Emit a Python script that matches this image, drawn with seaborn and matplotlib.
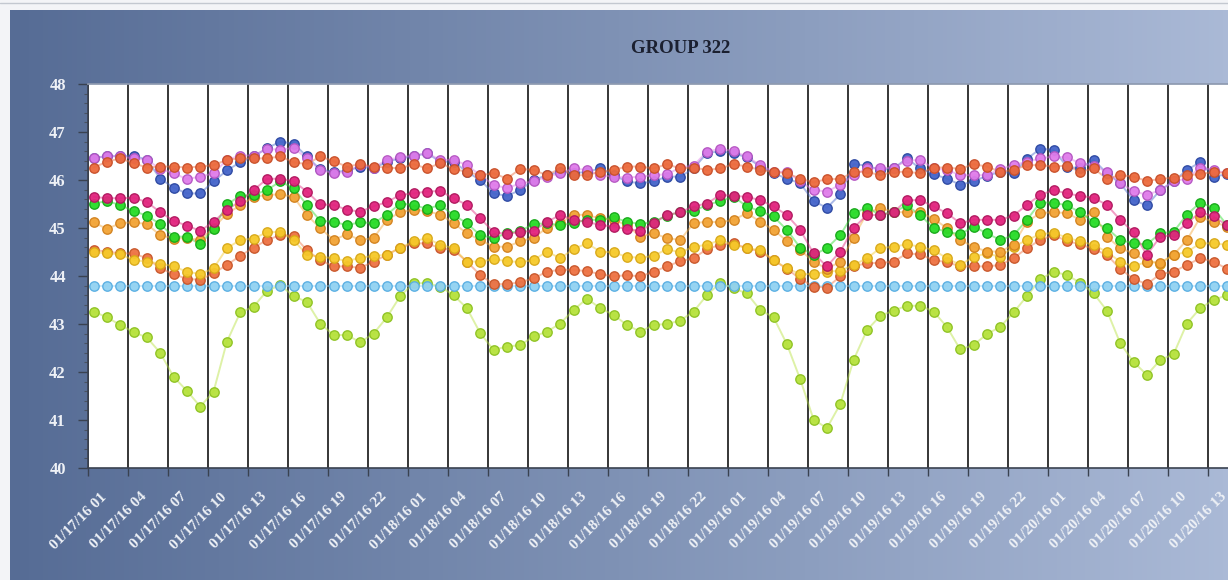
import numpy as np
import pandas as pd
import matplotlib
matplotlib.use("Agg")
import matplotlib.pyplot as plt
from matplotlib.colors import LinearSegmentedColormap
from matplotlib.lines import Line2D
from matplotlib.ticker import MultipleLocator
from matplotlib.transforms import ScaledTranslation
import seaborn as sns

# hourly readings, 01/17/16 01:xx onwards
start = "2016-01-17 01:25"

blue = [46.45, 46.50, 46.49, 46.51, 46.42, 46.03, 45.84, 45.72, 45.72, 45.97, 46.20, 46.37, 46.49, 46.66, 46.80, 46.76, 46.49, 46.22,
        46.17, 46.19, 46.28, 46.24, 46.38, 46.45, 46.49, 46.56, 46.38, 46.38, 46.17, 46.00, 45.72, 45.67, 45.79, 46.00, 46.10, 46.17,
        46.14, 46.17, 46.24, 46.10, 45.97, 45.93, 45.97, 46.07, 46.07, 46.24, 46.56, 46.60, 46.56, 46.47, 46.28, 46.14, 46.03, 45.93,
        45.56, 45.42, 45.70, 46.33, 46.30, 46.21, 46.24, 46.45, 46.24, 46.12, 46.03, 45.90, 45.97, 46.09, 46.17, 46.14, 46.44, 46.65,
        46.63, 46.28, 46.24, 46.42, 46.14, 45.93, 45.58, 45.47, 45.79, 45.97, 46.21, 46.37, 46.07, 46.12]
violet = [46.45, 46.51, 46.49, 46.45, 46.42, 46.23, 46.14, 46.02, 46.07, 46.14, 46.42, 46.51, 46.51, 46.65, 46.63, 46.67, 46.45, 46.21,
          46.14, 46.17, 46.31, 46.26, 46.42, 46.47, 46.51, 46.56, 46.42, 46.42, 46.31, 46.10, 45.90, 45.83, 45.93, 45.97, 46.07, 46.14,
          46.24, 46.21, 46.10, 46.07, 46.05, 46.07, 46.10, 46.12, 46.26, 46.30, 46.59, 46.65, 46.60, 46.49, 46.31, 46.17, 46.17, 45.97,
          45.79, 45.76, 45.90, 46.10, 46.24, 46.24, 46.26, 46.40, 46.42, 46.24, 46.21, 46.10, 46.10, 46.10, 46.23, 46.31, 46.38, 46.45,
          46.49, 46.47, 46.35, 46.30, 46.17, 45.93, 45.77, 45.69, 45.79, 45.97, 46.03, 46.26, 46.21, 46.14]
red_top = [46.26, 46.38, 46.45, 46.35, 46.26, 46.28, 46.28, 46.26, 46.28, 46.31, 46.42, 46.45, 46.45, 46.45, 46.49, 46.37, 46.33, 46.49,
           46.39, 46.28, 46.33, 46.28, 46.26, 46.24, 46.33, 46.24, 46.35, 46.23, 46.17, 46.10, 46.14, 46.03, 46.23, 46.21, 46.10, 46.24,
           46.10, 46.10, 46.17, 46.21, 46.28, 46.28, 46.24, 46.33, 46.24, 46.26, 46.21, 46.24, 46.33, 46.28, 46.21, 46.17, 46.14, 46.03,
           45.95, 46.02, 46.02, 46.17, 46.17, 46.10, 46.17, 46.17, 46.14, 46.26, 46.26, 46.23, 46.33, 46.28, 46.17, 46.21, 46.31, 46.31,
           46.28, 46.30, 46.17, 46.24, 46.03, 46.10, 46.07, 45.98, 46.02, 46.05, 46.10, 46.12, 46.17, 46.14]
magenta = [45.65, 45.62, 45.62, 45.63, 45.54, 45.33, 45.15, 45.05, 44.94, 45.13, 45.38, 45.56, 45.79, 46.02, 46.03, 45.97, 45.76, 45.49,
           45.48, 45.38, 45.34, 45.45, 45.54, 45.69, 45.72, 45.76, 45.77, 45.62, 45.48, 45.20, 44.92, 44.87, 44.92, 44.94, 45.13, 45.27,
           45.17, 45.13, 45.06, 45.03, 44.98, 44.94, 45.10, 45.27, 45.33, 45.45, 45.51, 45.69, 45.67, 45.65, 45.58, 45.45, 45.27, 44.96,
           44.47, 44.20, 44.51, 45.00, 45.27, 45.27, 45.33, 45.58, 45.58, 45.45, 45.31, 45.10, 45.17, 45.17, 45.17, 45.26, 45.48, 45.69,
           45.79, 45.72, 45.67, 45.63, 45.48, 45.17, 44.91, 44.44, 44.82, 44.85, 45.10, 45.33, 45.24, 45.06]
green = [45.51, 45.56, 45.48, 45.35, 45.26, 45.08, 44.82, 44.82, 44.66, 44.98, 45.49, 45.67, 45.69, 45.79, 45.97, 45.83, 45.48, 45.15,
         45.13, 45.06, 45.12, 45.10, 45.28, 45.51, 45.48, 45.40, 45.48, 45.27, 45.10, 44.85, 44.79, 44.89, 44.94, 45.08, 45.10, 45.06,
         45.10, 45.17, 45.17, 45.22, 45.13, 45.08, 45.13, 45.26, 45.33, 45.35, 45.48, 45.56, 45.65, 45.45, 45.35, 45.24, 44.96, 44.59,
         44.44, 44.58, 44.85, 45.31, 45.42, 45.28, 45.33, 45.47, 45.27, 45.00, 44.92, 44.87, 45.03, 44.89, 44.75, 44.85, 45.17, 45.53,
         45.53, 45.47, 45.33, 45.12, 45.00, 44.75, 44.68, 44.66, 44.89, 44.92, 45.28, 45.53, 45.42, 45.06]
orange = [45.12, 44.98, 45.10, 45.12, 45.08, 44.85, 44.78, 44.79, 44.75, 45.00, 45.30, 45.47, 45.65, 45.69, 45.70, 45.65, 45.27, 45.00,
          44.75, 44.87, 44.75, 44.79, 45.17, 45.33, 45.38, 45.35, 45.28, 45.10, 44.89, 44.75, 44.61, 44.61, 44.72, 44.80, 45.00, 45.10,
          45.28, 45.27, 45.20, 45.17, 45.06, 44.82, 44.89, 44.79, 44.75, 45.10, 45.13, 45.12, 45.17, 45.31, 45.13, 44.96, 44.73, 44.54,
          44.30, 44.15, 44.30, 44.80, 45.31, 45.42, 45.33, 45.33, 45.33, 45.19, 45.00, 44.75, 44.61, 44.51, 44.51, 44.65, 45.13, 45.31,
          45.33, 45.31, 45.17, 45.33, 44.82, 44.58, 44.47, 44.30, 44.28, 44.44, 44.75, 45.22, 45.13, 45.03]
yellow = [44.50, 44.47, 44.45, 44.33, 44.30, 44.26, 44.20, 44.09, 44.04, 44.16, 44.58, 44.75, 44.78, 44.91, 44.92, 44.75, 44.44, 44.40,
          44.37, 44.31, 44.38, 44.42, 44.44, 44.59, 44.72, 44.79, 44.65, 44.58, 44.30, 44.30, 44.35, 44.31, 44.29, 44.33, 44.51, 44.37,
          44.56, 44.68, 44.51, 44.49, 44.40, 44.38, 44.42, 44.56, 44.49, 44.61, 44.65, 44.75, 44.65, 44.58, 44.54, 44.33, 44.16, 44.04,
          44.04, 44.09, 44.11, 44.23, 44.37, 44.58, 44.61, 44.66, 44.61, 44.54, 44.37, 44.23, 44.40, 44.47, 44.40, 44.61, 44.75, 44.87,
          44.90, 44.80, 44.72, 44.65, 44.50, 44.30, 44.20, 44.30, 44.26, 44.44, 44.50, 44.68, 44.68, 44.65]
red_low = [44.54, 44.51, 44.47, 44.47, 44.37, 44.16, 44.04, 43.94, 43.92, 44.06, 44.23, 44.42, 44.59, 44.75, 44.85, 44.84, 44.54, 44.33,
           44.20, 44.20, 44.17, 44.30, 44.44, 44.59, 44.68, 44.68, 44.58, 44.54, 44.30, 44.02, 43.83, 43.83, 43.87, 43.95, 44.09, 44.13,
           44.13, 44.10, 44.04, 43.99, 44.02, 43.99, 44.09, 44.20, 44.31, 44.37, 44.56, 44.65, 44.68, 44.58, 44.51, 44.33, 44.15, 43.94,
           43.78, 43.76, 43.99, 44.20, 44.27, 44.27, 44.30, 44.47, 44.45, 44.33, 44.29, 44.20, 44.20, 44.20, 44.23, 44.37, 44.58, 44.75,
           44.85, 44.73, 44.66, 44.56, 44.44, 44.15, 43.94, 43.83, 44.04, 44.09, 44.23, 44.37, 44.30, 44.15]
sky = [43.8, 43.8, 43.8, 43.8, 43.8, 43.8, 43.8, 43.8, 43.8, 43.8, 43.8, 43.8, 43.8, 43.8, 43.8, 43.8, 43.8, 43.8,
       43.8, 43.8, 43.8, 43.8, 43.8, 43.8, 43.8, 43.8, 43.8, 43.8, 43.8, 43.8, 43.8, 43.8, 43.8, 43.8, 43.8, 43.8,
       43.8, 43.8, 43.8, 43.8, 43.8, 43.8, 43.8, 43.8, 43.8, 43.8, 43.8, 43.8, 43.8, 43.8, 43.8, 43.8, 43.8, 43.8,
       43.8, 43.8, 43.8, 43.8, 43.8, 43.8, 43.8, 43.8, 43.8, 43.8, 43.8, 43.8, 43.8, 43.8, 43.8, 43.8, 43.8, 43.8,
       43.8, 43.8, 43.8, 43.8, 43.8, 43.8, 43.8, 43.8, 43.8, 43.8, 43.8, 43.8, 43.8, 43.8]
lime = [43.26, 43.14, 42.98, 42.83, 42.72, 42.40, 41.90, 41.61, 41.28, 41.59, 42.63, 43.24, 43.36, 43.69, 43.81, 43.58, 43.46, 43.01,
        42.77, 42.77, 42.62, 42.80, 43.14, 43.58, 43.85, 43.85, 43.78, 43.60, 43.33, 42.81, 42.46, 42.53, 42.56, 42.74, 42.84, 43.01,
        43.29, 43.53, 43.33, 43.19, 42.98, 42.84, 42.98, 43.00, 43.07, 43.26, 43.60, 43.86, 43.74, 43.64, 43.29, 43.14, 42.58, 41.85,
        41.01, 40.83, 41.33, 42.25, 42.87, 43.17, 43.28, 43.38, 43.38, 43.26, 42.94, 42.47, 42.56, 42.79, 42.94, 43.24, 43.58, 43.93,
        44.09, 44.02, 43.86, 43.64, 43.28, 42.60, 42.21, 41.94, 42.25, 42.37, 43.01, 43.33, 43.50, 43.60]

series = {"lime": lime, "sky": sky, "red_low": red_low, "yellow": yellow, "orange": orange,
          "green": green, "magenta": magenta, "blue": blue, "violet": violet, "red_top": red_top}
fills = {"lime": "#B6E23C", "sky": "#92D2F2", "red_low": "#EE7242", "yellow": "#F6CA2A",
         "orange": "#F2A436", "green": "#28DC28", "magenta": "#E2247E", "blue": "#4464CA",
         "violet": "#E07CEA", "red_top": "#EC6A3C"}
edges = {"lime": "#8EC222", "sky": "#58AEE2", "red_low": "#C8562A", "yellow": "#D8A818",
         "orange": "#D2821E", "green": "#16A818", "magenta": "#B0185E", "blue": "#2C48A2",
         "violet": "#B456C2", "red_top": "#C8502A"}

n = len(blue)
times = pd.date_range(start, periods=n, freq="h")
df = pd.DataFrame({
    "time": np.tile(times, len(series)),
    "series": np.repeat(list(series), n),
    "value": np.concatenate([series[k] for k in series]),
})

tick_times = pd.date_range("2016-01-17 01:00", periods=29, freq="3h")
tick_labels = [t.strftime("%m/%d/%y %H") for t in tick_times]

sns.set_theme(style="white")
plt.rcParams['font.family'] = ['Liberation Serif', 'DejaVu Serif']

W, H = 1228, 580
fig = plt.figure(figsize=(W / 100, H / 100), dpi=100)
fig.patch.set_facecolor("#F3F4F7")

# gradient panel behind everything
bg = fig.add_axes([10 / W, 0, 1 - 10 / W, 1 - 10 / H], zorder=-10)
cmap = LinearSegmentedColormap.from_list("panel", ["#566C95", "#7F92B5", "#AAB9D6"])
bg.imshow(np.linspace(0, 1, 256)[None, :], aspect="auto", cmap=cmap, extent=[0, 1, 0, 1])
bg.axis("off")
fig.add_artist(Line2D([0, 1], [1 - 3 / H] * 2, color="#C3C8D0", lw=1))

ax = fig.add_axes([88 / W, 1 - 468 / H, 1 - 88 / W, 384 / H])
ax.set_facecolor("white")

for name in series:
    sub = df[df["series"] == name]
    sns.lineplot(data=sub, x="time", y="value", color=fills[name], lw=1.4, alpha=0.45,
                 sort=False, legend=False, ax=ax)
    sns.scatterplot(data=sub, x="time", y="value", color=fills[name], edgecolor=edges[name],
                    linewidth=1.0, s=46, alpha=0.95, legend=False, ax=ax, zorder=3)

ax.set_xlim(tick_times[0], tick_times[0] + pd.Timedelta(hours=85.5))
ax.set_ylim(40, 48)
ax.set_xticks(tick_times)
ax.set_xticklabels(tick_labels, rotation=45, ha="right", rotation_mode="anchor",
                   color="#EEF1F6", fontsize=11, fontweight="bold")
ax.set_yticks(range(40, 49))
ax.set_yticklabels([str(v) for v in range(40, 49)], color="#EEF1F6", fontsize=12, fontweight="bold")
ax.yaxis.set_minor_locator(MultipleLocator(0.2))
ax.grid(axis="x", color="black", lw=1.1)
ax.grid(axis="y", visible=False)
ax.set_axisbelow(True)
ax.set_xlabel("")
ax.set_ylabel("")

ax.tick_params(axis="y", which="major", length=7, width=1, color="#3A4250", pad=9, left=True)
ax.tick_params(axis="y", which="minor", length=3, width=0.8, color="#4A5260", left=True)
ax.tick_params(axis="x", which="major", length=6, width=1, color="#3A4250", pad=10, bottom=True)
for lab in ax.get_xticklabels():
    lab.set_transform(lab.get_transform() + ScaledTranslation(0.12, 0, fig.dpi_scale_trans))

for side in ["left", "bottom"]:
    ax.spines[side].set_color("#3A4250")
    ax.spines[side].set_linewidth(1.2)
ax.spines["top"].set_color("#8E9AB0")
ax.spines["right"].set_visible(False)

fig.text(0.554, 0.917, "GROUP 322", ha="center", va="center", fontsize=13.5,
         fontweight="bold", color="#1B2030")

fig.savefig("out.png", dpi=100, facecolor=fig.get_facecolor())
